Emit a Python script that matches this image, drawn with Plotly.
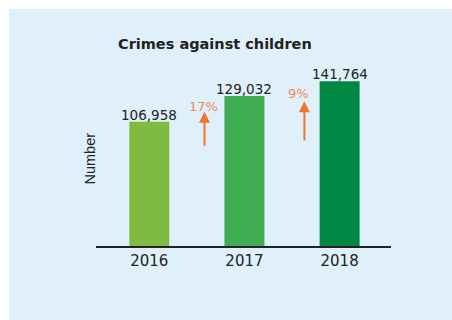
import plotly.graph_objects as go

years = ["2016", "2017", "2018"]
crimes = [106958, 129032, 141764]
bar_colors = ["#80bb41", "#3fae52", "#008744"]
growth_labels = ["17%", "9%"]

W, H = 452, 320
ml, mr, mt, mb = 96, 61, 60, 74
plot_w = W - ml - mr
plot_h = H - mt - mb
ymax = 160000
FONT = "DejaVu Sans, Verdana, sans-serif"

def px_to_paper_x(px):
    return (px - ml) / plot_w

def px_to_paper_y(py):
    return (H - mb - py) / plot_h

xs = list(range(len(years)))
fig = go.Figure()
fig.add_trace(go.Bar(
    x=xs, y=crimes,
    marker=dict(color=bar_colors, line=dict(width=0)),
    width=0.42,
    hoverinfo="skip",
))

annotations = []
# value labels above bars
for xi, v in zip(xs, crimes):
    annotations.append(dict(
        x=xi, y=v, xref="x", yref="y", text=f"{v:,}", showarrow=False,
        yanchor="middle", yshift=7,
        font=dict(family=FONT, size=13.5, color="#222222"),
    ))

orange_arrow = "#f2742c"
orange_text = "#f08a4e"
# growth arrows between bars
arrow_specs = [
    (0.58, 85000, 115500, 0.57, 119800),
    (1.63, 89500, 124500, 1.57, 131000),
]
for (xa, y0, y1, xt, yt), lab in zip(arrow_specs, growth_labels):
    annotations.append(dict(
        x=xa, y=y1, ax=xa, ay=y0, xref="x", yref="y", axref="x", ayref="y",
        showarrow=True, arrowhead=2, arrowsize=1.1, arrowwidth=2,
        arrowcolor=orange_arrow, text="",
    ))
    annotations.append(dict(
        x=xt, y=yt, xref="x", yref="y", text=lab, showarrow=False,
        xanchor="center", yanchor="middle",
        font=dict(family=FONT, size=13, color=orange_text),
    ))

annotations.append(dict(
    x=px_to_paper_x(89.5), y=px_to_paper_y(159), xref="paper", yref="paper",
    xanchor="center", yanchor="middle",
    text="Number", textangle=-90, showarrow=False,
    font=dict(family="Liberation Sans, Arial, sans-serif", size=14.5, color="#222222"),
))
annotations.append(dict(
    x=px_to_paper_x(215), y=px_to_paper_y(44), xref="paper", yref="paper",
    xanchor="center", yanchor="middle",
    text="<b>Crimes against children</b>", showarrow=False,
    font=dict(family=FONT, size=14.5, color="#222222"),
))

fig.update_layout(
    width=W, height=H,
    margin=dict(l=ml, r=mr, t=mt, b=mb, pad=0),
    paper_bgcolor="white",
    plot_bgcolor="rgba(0,0,0,0)",
    showlegend=False,
    annotations=annotations,
    shapes=[dict(
        type="rect", xref="paper", yref="paper", layer="below",
        x0=px_to_paper_x(9), x1=px_to_paper_x(452),
        y0=px_to_paper_y(320), y1=px_to_paper_y(9),
        fillcolor="#dff0fb", line=dict(width=0),
    )],
    xaxis=dict(
        range=[-0.56, 2.54],
        tickmode="array", tickvals=xs, ticktext=years,
        showline=True, linecolor="#222222", linewidth=1.5,
        showgrid=False, zeroline=False, ticks="",
        tickfont=dict(family=FONT, size=15, color="#222222"),
    ),
    yaxis=dict(
        range=[0, ymax], visible=False, showgrid=False, zeroline=False,
    ),
)

fig.write_html("out.html")
